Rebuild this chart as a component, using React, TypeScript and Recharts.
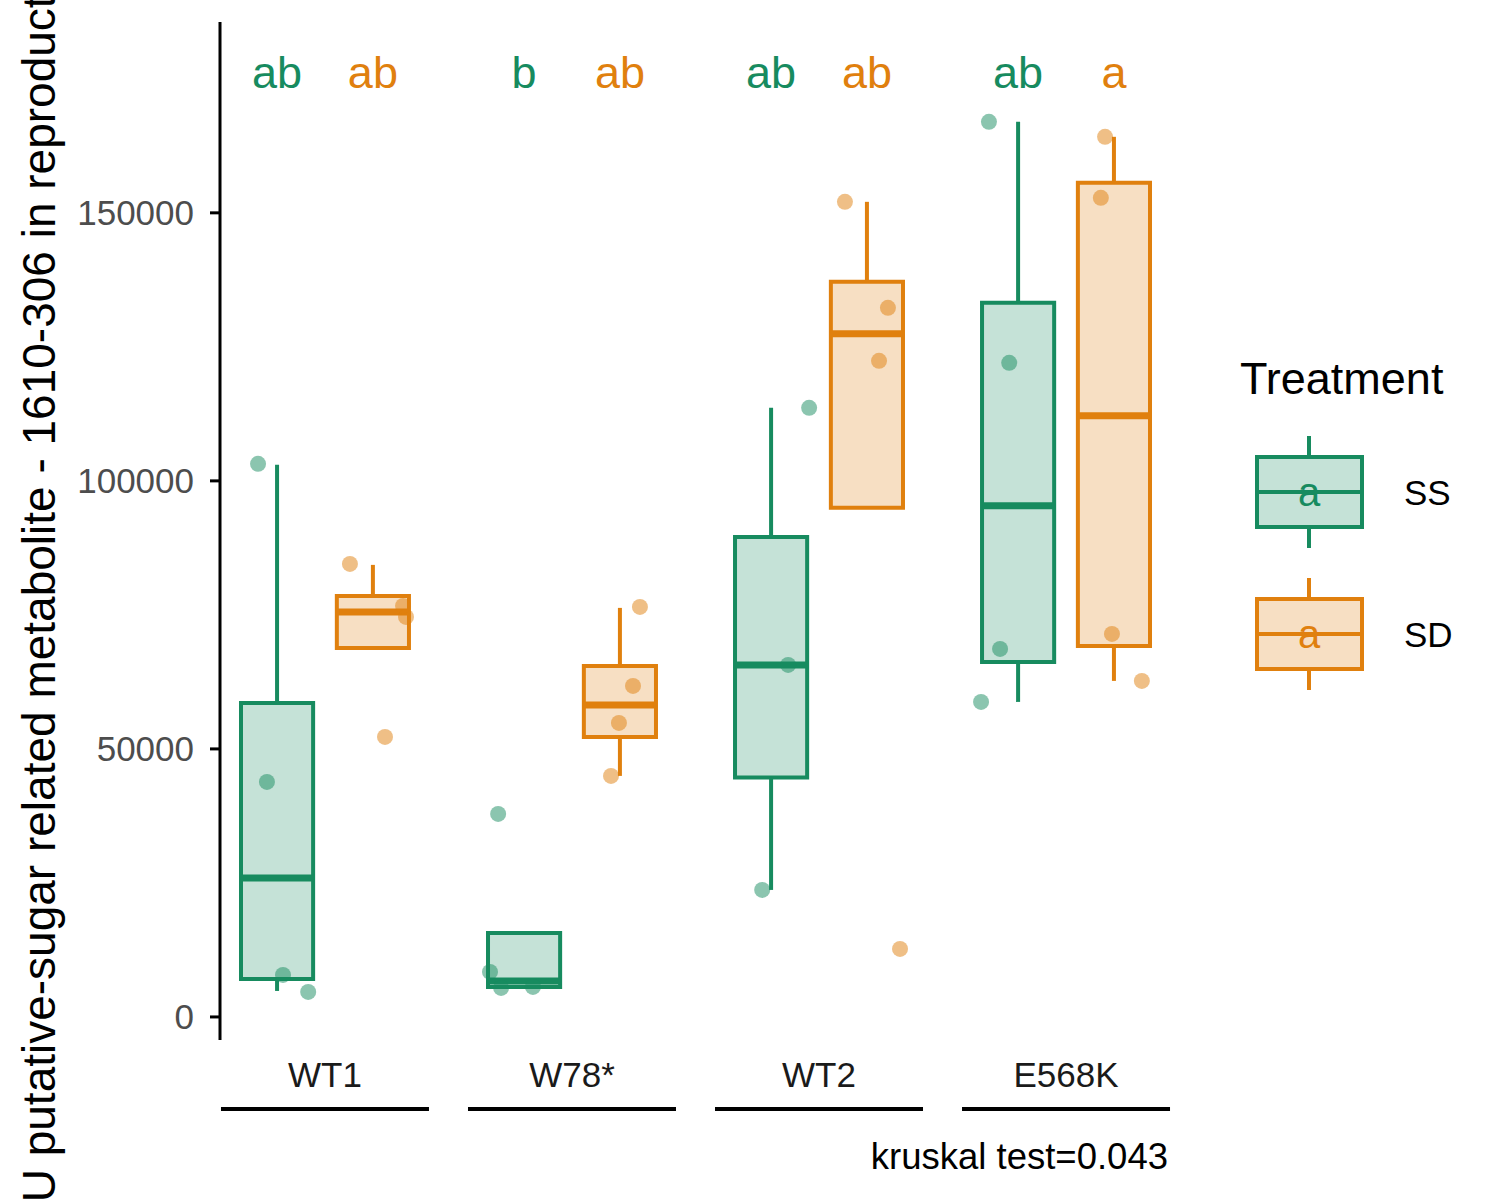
import React from 'react';
import { ComposedChart, XAxis, YAxis, Scatter, ReferenceArea, ReferenceLine } from 'recharts';

const FONT = '"Liberation Sans", Arial, Helvetica, sans-serif';

const genotypes = ['WT1', 'W78*', 'WT2', 'E568K'];
const treatments = ['SS', 'SD'];
const treatmentColors = ['#178B5F', '#E0800E'];
const yTicks = [0, 50000, 100000, 150000];

// box stats: [lower whisker, Q1, median, Q3, upper whisker]
const ssBoxes = [
  [4851, 7090, 25933, 58583, 102987],
  [5410, 5597, 6717, 15672, 15672],
  [23694, 44683, 65673, 89554, 113621],
  [58770, 66232, 95337, 133211, 166980],
];
const sdBoxes = [
  [68844, 68844, 75561, 78546, 84330],
  [44964, 52240, 58210, 65486, 76307],
  [94964, 94964, 127427, 137129, 152055],
  [62687, 69217, 112129, 155599, 164182],
];

// individual samples (jittered horizontally in the original)
const ssValues = [
  [103173, 43844, 7836, 4664],
  [37874, 8396, 5410, 5597],
  [113621, 65673, 23694],
  [166980, 122017, 68658, 58770],
];
const ssJitter = [
  [-0.077, -0.041, 0.024, 0.126],
  [-0.105, -0.138, -0.093, 0.036],
  [0.154, 0.069, -0.036],
  [-0.118, -0.036, -0.073, -0.150],
];
const sdValues = [
  [84516, 52240, 76680, 74628],
  [76494, 61755, 54852, 44964],
  [152055, 132278, 122390, 12687],
  [164182, 152801, 71456, 62687],
];
const sdJitter = [
  [-0.093, 0.049, 0.122, 0.134],
  [0.081, 0.053, -0.004, -0.036],
  [-0.089, 0.085, 0.049, 0.134],
  [-0.036, -0.053, -0.008, 0.113],
];

// compact letter display from the post-hoc test
const ssLetters = ['ab', 'b', 'ab', 'ab'];
const sdLetters = ['ab', 'ab', 'ab', 'a'];
const letterLevel = 176300;

const caption = 'kruskal test=0.043';
const yTitle = 'AU putative-sugar related metabolite - 1610-306 in reproductive tissue';

const DODGE = 0.194;
const HALF = 0.146;

const boxes = [ssBoxes, sdBoxes];
const values = [ssValues, sdValues];
const jitter = [ssJitter, sdJitter];
const letters = [ssLetters, sdLetters];

function GroupTick(props: any) {
  const { x, y, payload } = props;
  return (
    <g>
      <text x={x} y={y + 47} textAnchor="middle" fontSize={35} fill="#1a1a1a" fontFamily={FONT}>
        {genotypes[payload.value - 1]}
      </text>
      <line x1={x - 104} x2={x + 104} y1={y + 69} y2={y + 69} stroke="#000" strokeWidth={4} />
    </g>
  );
}

export default function App() {
  const refs: React.ReactNode[] = [];
  treatments.forEach((t, ti) => {
    const color = treatmentColors[ti];
    const shift = ti === 0 ? -DODGE : DODGE;
    boxes[ti].forEach((b, gi) => {
      const cx = gi + 1 + shift;
      const [lo, q1, med, q3, hi] = b;
      refs.push(
        <ReferenceLine key={`wl-${t}-${gi}`} segment={[{ x: cx, y: lo }, { x: cx, y: q1 }]} stroke={color} strokeWidth={4} ifOverflow="visible" />,
        <ReferenceLine key={`wh-${t}-${gi}`} segment={[{ x: cx, y: q3 }, { x: cx, y: hi }]} stroke={color} strokeWidth={4} ifOverflow="visible" />,
        <ReferenceArea key={`b-${t}-${gi}`} x1={cx - HALF} x2={cx + HALF} y1={q1} y2={q3} fill={color} fillOpacity={0.25} stroke={color} strokeWidth={4} strokeOpacity={1} ifOverflow="visible" />,
        <ReferenceLine key={`m-${t}-${gi}`} segment={[{ x: cx - HALF, y: med }, { x: cx + HALF, y: med }]} stroke={color} strokeWidth={7} ifOverflow="visible" />,
      );
    });
  });

  const pointSets = treatments.map((t, ti) => {
    const shift = ti === 0 ? -DODGE : DODGE;
    const pts: { x: number; y: number }[] = [];
    values[ti].forEach((vals, gi) => {
      vals.forEach((v, k) => pts.push({ x: gi + 1 + shift + jitter[ti][gi][k], y: v }));
    });
    return pts;
  });

  const letterSets = treatments.map((t, ti) => {
    const shift = ti === 0 ? -DODGE : DODGE;
    return letters[ti].map((l, gi) => ({ x: gi + 1 + shift, y: letterLevel, label: l }));
  });

  return (
    <div style={{ position: 'absolute', left: 0, top: 0, width: 1500, height: 1200, background: '#fff', fontFamily: FONT }}>
      <ComposedChart width={1500} height={1200} margin={{ top: 22, right: 329, bottom: 0, left: 0 }}>
        <XAxis
          type="number"
          dataKey="x"
          domain={[0.575, 4.425]}
          ticks={[1, 2, 3, 4]}
          allowDataOverflow
          axisLine={false}
          tickLine={false}
          tickSize={0}
          tickMargin={0}
          height={160}
          tick={<GroupTick />}
          interval={0}
        />
        <YAxis
          type="number"
          dataKey="y"
          domain={[-4300, 185600]}
          ticks={yTicks}
          allowDataOverflow
          width={220}
          axisLine={{ stroke: '#000', strokeWidth: 3 }}
          tickLine={{ stroke: '#000', strokeWidth: 3 }}
          tickSize={10}
          tickMargin={16}
          tick={{ fill: '#4D4D4D', fontSize: 35, fontFamily: FONT }}
          interval={0}
        />
        {refs}
        {treatments.map((t, ti) => (
          <Scatter
            key={`pts-${t}`}
            data={pointSets[ti]}
            isAnimationActive={false}
            shape={(p: any) => <circle cx={p.cx} cy={p.cy} r={8} fill={treatmentColors[ti]} fillOpacity={0.5} />}
          />
        ))}
        {treatments.map((t, ti) => (
          <Scatter
            key={`let-${t}`}
            data={letterSets[ti]}
            isAnimationActive={false}
            shape={(p: any) => (
              <text x={p.cx} y={p.cy} dy="0.36em" textAnchor="middle" fontSize={45} fill={treatmentColors[ti]} fontFamily={FONT}>
                {p.payload.label}
              </text>
            )}
          />
        ))}
      </ComposedChart>
      <svg width={1500} height={1200} style={{ position: 'absolute', left: 0, top: 0, pointerEvents: 'none' }}>
        <text transform="rotate(-90)" x={-1233} y={55} fontSize={46} fill="#000" fontFamily={FONT} textAnchor="start">
          {yTitle}
        </text>
        <text x={1168} y={1169} fontSize={36.5} fill="#000" textAnchor="end" fontFamily={FONT}>
          {caption}
        </text>
        <text x={1240} y={394} fontSize={45} fill="#000" fontFamily={FONT}>
          Treatment
        </text>
        {treatments.map((t, ti) => {
          const top = 457 + ti * 142;
          const c = treatmentColors[ti];
          return (
            <g key={`leg-${t}`}>
              <line x1={1309} x2={1309} y1={top - 21} y2={top} stroke={c} strokeWidth={4} />
              <line x1={1309} x2={1309} y1={top + 70} y2={top + 91} stroke={c} strokeWidth={4} />
              <rect x={1257} y={top} width={105} height={70} fill={c} fillOpacity={0.25} stroke={c} strokeWidth={4} />
              <line x1={1257} x2={1362} y1={top + 35} y2={top + 35} stroke={c} strokeWidth={4} />
              <text x={1309} y={top + 35} dy="0.36em" textAnchor="middle" fontSize={40} fill={c} fontFamily={FONT}>
                a
              </text>
              <text x={1404} y={top + 35} dy="0.36em" fontSize={35} fill="#000" fontFamily={FONT}>
                {t}
              </text>
            </g>
          );
        })}
      </svg>
    </div>
  );
}
